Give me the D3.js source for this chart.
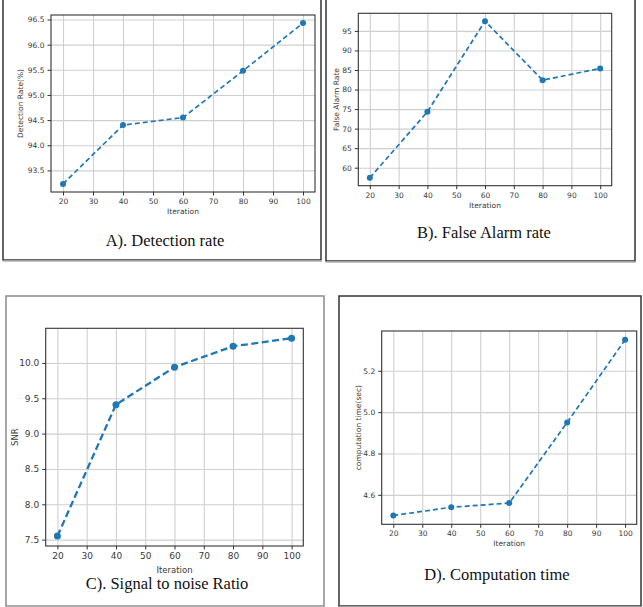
<!DOCTYPE html>
<html>
<head>
<meta charset="utf-8">
<script src="https://cdn.jsdelivr.net/npm/d3@7"></script>
<style>
  body { margin: 0; background: #fff; }
  .grid line { stroke: #cfcfcf; stroke-width: 1.1; }
  .grid .domain { display: none; }
  .axis text { fill: #3a3a3a; font-family: "DejaVu Sans", sans-serif; }
  .axis line, .axis path { stroke: #333; }
  .label { fill: #3a3a3a; font-family: "DejaVu Sans", sans-serif; }
  .caption { fill: #111; font-family: "Liberation Serif", "Times New Roman", serif; font-size: 16.5px; }
</style>
</head>
<body>
<div id="hook"></div>
<script>
var iterations      = [20, 40, 60, 80, 100];
var detectionRate   = [93.23, 94.40, 94.55, 95.48, 96.43];
var falseAlarmRate  = [57.4, 74.3, 97.5, 82.4, 85.4];
var snrValues       = [7.55, 9.41, 9.94, 10.235, 10.35];
var computationTime = [4.50, 4.54, 4.56, 4.95, 5.35];

var xTicks     = [20, 30, 40, 50, 60, 70, 80, 90, 100];
var ticksA     = [93.5, 94.0, 94.5, 95.0, 95.5, 96.0, 96.5];
var ticksB     = [60, 65, 70, 75, 80, 85, 90, 95];
var ticksC     = [7.5, 8.0, 8.5, 9.0, 9.5, 10.0];
var ticksD     = [4.6, 4.8, 5.0, 5.2];

var svg = d3.select("#hook").append("svg")
  .attr("width", 643).attr("height", 607);

// panel frames
var frames = [
  {x: 3, y: -1, w: 318, h: 261, dark: true},
  {x: 326, y: -1, w: 309, h: 262, dark: true},
  {x: 6, y: 296, w: 318, h: 310, dark: false},
  {x: 339, y: 296, w: 302, h: 310, dark: true}
];
frames.forEach(function(f) {
  svg.append("rect").attr("x", f.x).attr("y", f.y).attr("width", f.w).attr("height", f.h)
    .attr("fill", "none").attr("stroke", f.dark ? "#333" : "#8a8a8a").attr("stroke-width", 1.5);
  svg.append("line").attr("x1", f.x).attr("x2", f.x + f.w + 1).attr("y1", f.y + f.h + 1).attr("y2", f.y + f.h + 1)
    .attr("stroke", "#b0b0b0").attr("stroke-width", 1.5);
});

var pad = (v) => { var lo = d3.min(v), hi = d3.max(v), m = (hi - lo) * 0.05; return [lo - m, hi + m]; };

function drawPanel(p) {
  var width = p.right - p.left, height = p.bottom - p.top;
  var x = d3.scaleLinear().domain([16, 104]).range([0, width]);
  var y = d3.scaleLinear().domain(pad(p.values)).range([height, 0]);

  var g = svg.append("g").attr("transform", "translate(" + p.left + "," + p.top + ")");

  g.append("g").attr("class", "grid").attr("transform", "translate(0," + height + ")")
    .call(d3.axisBottom(x).tickValues(xTicks).tickSizeInner(-height).tickSizeOuter(0).tickFormat(""));
  g.append("g").attr("class", "grid")
    .call(d3.axisLeft(y).tickValues(p.yTicks).tickSizeInner(-width).tickSizeOuter(0).tickFormat(""));

  g.append("rect").attr("width", width).attr("height", height)
    .attr("fill", "none").attr("stroke", "#333").attr("stroke-width", 1.1);

  var ax = g.append("g").attr("class", "axis").attr("transform", "translate(0," + height + ")")
    .call(d3.axisBottom(x).tickValues(xTicks).tickSizeInner(3.5).tickSizeOuter(0).tickPadding(3));
  var ay = g.append("g").attr("class", "axis")
    .call(d3.axisLeft(y).tickValues(p.yTicks).tickSizeInner(3.5).tickSizeOuter(0).tickPadding(3)
      .tickFormat(d3.format(p.fmt)));
  [ax, ay].forEach(function(a) {
    a.select(".domain").remove();
    a.selectAll("text").attr("font-size", p.tickSize);
  });

  var line = d3.line().x(function(d, i) { return x(iterations[i]); }).y(function(d) { return y(d); });
  g.append("path").datum(p.values).attr("d", line)
    .attr("fill", "none").attr("stroke", "#1f77b4").attr("stroke-width", p.lw)
    .attr("stroke-dasharray", p.dash);
  g.selectAll("circle").data(p.values).enter().append("circle")
    .attr("cx", function(d, i) { return x(iterations[i]); })
    .attr("cy", function(d) { return y(d); })
    .attr("r", p.r).attr("fill", "#1f77b4");

  g.append("text").attr("class", "label")
    .attr("x", width / 2).attr("y", p.xLabelY - p.top)
    .attr("text-anchor", "middle").attr("dominant-baseline", "middle")
    .attr("font-size", p.labelSize).text("Iteration");
  g.append("text").attr("class", "label")
    .attr("transform", "rotate(-90)")
    .attr("x", -height / 2).attr("y", p.yLabelX - p.left)
    .attr("text-anchor", "middle").attr("dominant-baseline", "middle")
    .attr("font-size", p.labelSize).text(p.yLabel);

  svg.append("text").attr("class", "caption")
    .attr("x", p.capX).attr("y", p.capY)
    .attr("text-anchor", "middle").attr("dominant-baseline", "middle")
    .text(p.caption);
}

drawPanel({left: 51, right: 315, top: 15, bottom: 192, values: detectionRate, yTicks: ticksA, fmt: ".1f",
  yLabel: "Detection Rate(%)", xLabelY: 212, yLabelX: 21, caption: "A). Detection rate", capX: 165, capY: 242,
  tickSize: 7.5, labelSize: 7.5, lw: 1.7, dash: "5,3", r: 3});
drawPanel({left: 358.3, right: 611.7, top: 13.3, bottom: 185.7, values: falseAlarmRate, yTicks: ticksB, fmt: "d",
  yLabel: "False Alarm Rate", xLabelY: 206, yLabelX: 337, caption: "B). False Alarm rate", capX: 484, capY: 234,
  tickSize: 7.5, labelSize: 7.5, lw: 1.7, dash: "5,3", r: 3});
drawPanel({left: 45.7, right: 303.3, top: 328.3, bottom: 546, values: snrValues, yTicks: ticksC, fmt: ".1f",
  yLabel: "SNR", xLabelY: 571, yLabelX: 15, caption: "C). Signal to noise Ratio", capX: 167, capY: 585.5,
  tickSize: 9, labelSize: 8.5, lw: 2.3, dash: "7,3.5", r: 3.5});
drawPanel({left: 381.7, right: 636.7, top: 331, bottom: 524.3, values: computationTime, yTicks: ticksD, fmt: ".1f",
  yLabel: "computation time(sec)", xLabelY: 544, yLabelX: 358.5, caption: "D). Computation time", capX: 497, capY: 576,
  tickSize: 7.5, labelSize: 7.5, lw: 1.7, dash: "5,3", r: 3});
</script>
</body>
</html>
